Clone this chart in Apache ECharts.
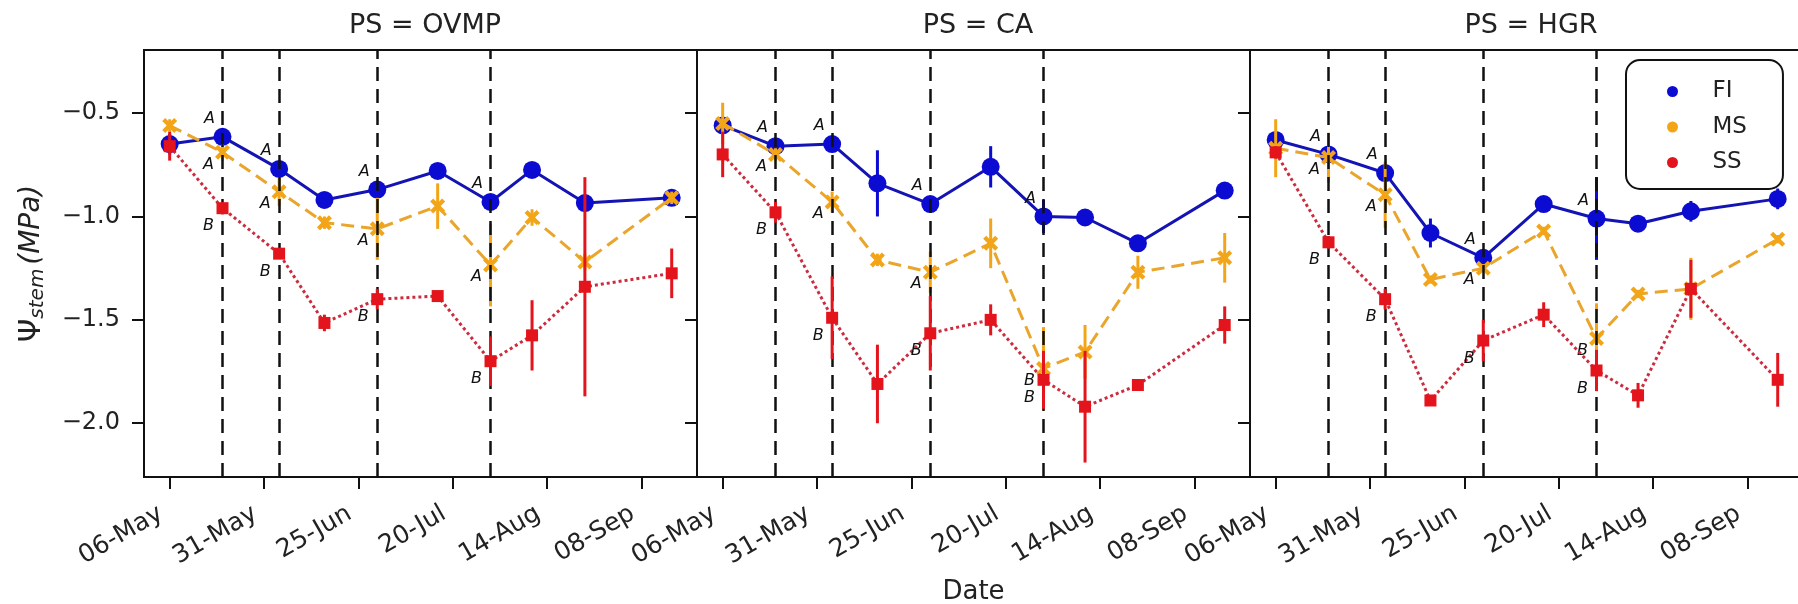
<!DOCTYPE html>
<html>
<head>
<meta charset="utf-8">
<title>Stem water potential</title>
<script src="https://cdn.jsdelivr.net/npm/echarts@6/dist/echarts.min.js"></script>
<style>
  html, body { margin: 0; padding: 0; background: #fff; }
  #main { width: 1798px; height: 604px; }
</style>
</head>
<body>
<div id="main"></div>
<script>
// days counted from 06-May
const days = [0, 14, 29, 41, 55, 71, 85, 96, 110, 133];
const tickDays = [0, 25, 50, 75, 100, 125];
const markDays = [14, 29, 55, 85];
const yTicks = [-2.0, -1.5, -1.0, -0.5];
const panelTitles = ['PS = OVMP', 'PS = CA', 'PS = HGR'];
const treatments = ['FI', 'MS', 'SS'];

// PS = OVMP
const ovmpFI = [-0.65, -0.615, -0.77, -0.92, -0.87, -0.78, -0.93, -0.775, -0.935, -0.91];
const ovmpFIErr = [0.05, 0.02, 0.03, 0.03, 0.02, 0.02, 0.02, 0.02, 0.02, 0.03];
const ovmpMS = [-0.56, -0.69, -0.88, -1.03, -1.06, -0.95, -1.235, -1.005, -1.22, -0.91];
const ovmpMSErr = [0.03, 0.04, 0.07, 0.03, 0.15, 0.11, 0.2, 0.04, 0.04, 0.03];
const ovmpSS = [-0.66, -0.96, -1.18, -1.515, -1.40, -1.385, -1.70, -1.575, -1.34, -1.275];
const ovmpSSErr = [0.07, 0.03, 0.02, 0.04, 0.05, 0.02, 0.12, 0.17, 0.53, 0.12];
const ovmpLetters = [['A', 'A', 'B'], ['A', 'A', 'B'], ['A', 'A', 'B'], ['A', 'A', 'B']];

// PS = CA
const caFI = [-0.56, -0.66, -0.65, -0.84, -0.94, -0.76, -1.0, -1.005, -1.13, -0.875];
const caFIErr = [0.02, 0.02, 0.03, 0.16, 0.02, 0.1, 0.08, 0.02, 0.02, 0.02];
const caMS = [-0.55, -0.70, -0.93, -1.21, -1.27, -1.13, -1.735, -1.655, -1.27, -1.20];
const caMSErr = [0.1, 0.03, 0.05, 0.03, 0.1, 0.12, 0.2, 0.13, 0.08, 0.12];
const caSS = [-0.70, -0.98, -1.49, -1.81, -1.565, -1.50, -1.79, -1.92, -1.815, -1.525];
const caSSErr = [0.11, 0.05, 0.2, 0.19, 0.18, 0.075, 0.14, 0.27, 0.02, 0.09];
const caLetters = [['A', 'A', 'B'], ['A', 'A', 'B'], ['A', 'A', 'B'], ['A', 'B', 'B']];

// PS = HGR
const hgrFI = [-0.63, -0.70, -0.79, -1.08, -1.20, -0.94, -1.01, -1.035, -0.975, -0.915];
const hgrFIErr = [0.02, 0.02, 0.03, 0.07, 0.02, 0.02, 0.2, 0.02, 0.05, 0.05];
const hgrMS = [-0.67, -0.715, -0.895, -1.305, -1.25, -1.07, -1.59, -1.375, -1.35, -1.11];
const hgrMSErr = [0.14, 0.12, 0.16, 0.02, 0.02, 0.02, 0.17, 0.02, 0.15, 0.02];
const hgrSS = [-0.69, -1.125, -1.40, -1.89, -1.60, -1.475, -1.745, -1.865, -1.35, -1.79];
const hgrSSErr = [0.03, 0.03, 0.05, 0.02, 0.1, 0.06, 0.1, 0.06, 0.14, 0.13];
const hgrLetters = [['A', 'A', 'B'], ['A', 'A', 'B'], ['A', 'A', 'B'], ['A', 'B', 'B']];

const panels = [
  { values: [ovmpFI, ovmpMS, ovmpSS], errs: [ovmpFIErr, ovmpMSErr, ovmpSSErr], letters: ovmpLetters },
  { values: [caFI, caMS, caSS], errs: [caFIErr, caMSErr, caSSErr], letters: caLetters },
  { values: [hgrFI, hgrMS, hgrSS], errs: [hgrFIErr, hgrMSErr, hgrSSErr], letters: hgrLetters }
];

const FONT = 'DejaVu Sans';
const MONTHS = ['Jan', 'Feb', 'Mar', 'Apr', 'May', 'Jun', 'Jul', 'Aug', 'Sep', 'Oct', 'Nov', 'Dec'];
function dayLabel(d) {
  const dt = new Date(Date.UTC(2021, 4, 6 + Math.round(d)));
  return String(dt.getUTCDate()).padStart(2, '0') + '-' + MONTHS[dt.getUTCMonth()];
}

// look of each treatment
const styles = [
  { color: '#0b0bd2', lineColor: '#1414b4', symbol: 'circle', size: 18, type: 'solid', z: 3, letterOffset: [-13, -18] },
  { color: '#f3a518', lineColor: '#e9a52c', symbol: 'path://M2,0 L5,3 L8,0 L10,2 L7,5 L10,8 L8,10 L5,7 L2,10 L0,8 L3,5 L0,2 Z', size: 15, type: [13, 7], z: 4, letterOffset: [-14, 12] },
  { color: '#e4141c', lineColor: '#cc2c3e', symbol: 'rect', size: 12, type: [3, 3], z: 5, letterOffset: [-14, 18] }
];

const gridLefts = [144, 697, 1250];
const grids = [], xAxes = [], yAxes = [], titles = [], series = [];

panels.forEach(function (p, i) {
  grids.push({
    left: gridLefts[i], top: 50, width: 553, height: 427, outerBoundsMode: 'none', containLabel: false,
    show: true, borderColor: '#111', borderWidth: 2
  });
  titles.push({
    text: panelTitles[i], left: gridLefts[i] + 276, top: 7, textAlign: 'center',
    textStyle: { fontFamily: FONT, fontSize: 27, fontWeight: 'normal', color: '#222' }
  });
  xAxes.push({
    type: 'value', gridIndex: i, min: -6.8, max: 139.7,
    name: i === 1 ? 'Date' : '', nameLocation: 'middle', nameGap: 102,
    nameTextStyle: { fontFamily: FONT, fontSize: 26, color: '#222' },
    axisLine: { show: true, onZero: false, lineStyle: { color: '#111', width: 2 } },
    axisTick: { show: true, length: 12, customValues: tickDays, lineStyle: { color: '#111', width: 2 } },
    axisLabel: {
      customValues: tickDays, rotate: 30, margin: 30, padding: [0, 10, 0, 0], formatter: dayLabel,
      fontFamily: FONT, fontSize: 25, color: '#222'
    },
    splitLine: { show: false }
  });
  yAxes.push({
    type: 'value', gridIndex: i, min: -2.26, max: -0.195,
    name: i === 0 ? '{psi|Ψ}{sub|stem} {it|(MPa)}' : '',
    nameLocation: 'middle', nameGap: 96, nameRotate: 90,
    nameTextStyle: {
      fontFamily: FONT, color: '#222',
      rich: {
        psi: { fontFamily: FONT, fontSize: 30, color: '#222' },
        sub: { fontFamily: FONT, fontSize: 20, fontStyle: 'italic', color: '#222', verticalAlign: 'bottom', padding: [12, 0, 0, 0] },
        it: { fontFamily: FONT, fontSize: 28, fontStyle: 'italic', color: '#222' }
      }
    },
    axisLine: { show: true, onZero: false, lineStyle: { color: '#111', width: 2 } },
    axisTick: { show: true, length: 12, customValues: yTicks, lineStyle: { color: '#111', width: 2 } },
    axisLabel: {
      show: i === 0, customValues: yTicks, margin: 24,
      formatter: function (v) { return v.toFixed(1).replace('-', '\u2212'); },
      fontFamily: FONT, fontSize: 24, color: '#222'
    },
    splitLine: { show: false }
  });

  // vertical dashed reference lines
  series.push({
    type: 'line', xAxisIndex: i, yAxisIndex: i, data: [], z: 1, silent: true,
    markLine: {
      silent: true, symbol: ['none', 'none'], label: { show: false },
      lineStyle: { color: '#111', type: [14, 8], width: 2.5 },
      data: markDays.map(function (d) { return { xAxis: d }; })
    }
  });

  treatments.forEach(function (name, k) {
    const st = styles[k];
    const vals = p.values[k];
    const errs = p.errs[k];
    series.push({
      name: name + ' err', type: 'custom', xAxisIndex: i, yAxisIndex: i, z: st.z, silent: true,
      data: days.map(function (d, j) { return [d, vals[j] - errs[j], vals[j] + errs[j]]; }),
      encode: { x: 0, y: [1, 2] },
      renderItem: function (params, api) {
        const a = api.coord([api.value(0), api.value(1)]);
        const b = api.coord([api.value(0), api.value(2)]);
        return { type: 'line', shape: { x1: a[0], y1: a[1], x2: b[0], y2: b[1] }, style: { stroke: st.color, lineWidth: 3 } };
      }
    });
    series.push({
      name: name, type: 'line', xAxisIndex: i, yAxisIndex: i, z: st.z,
      symbol: st.symbol, symbolSize: st.size, showAllSymbol: true,
      itemStyle: { color: st.color },
      lineStyle: { color: st.lineColor, width: 3, type: st.type },
      data: days.map(function (d, j) {
        const m = markDays.indexOf(d);
        const item = { value: [d, vals[j]] };
        if (m >= 0) {
          item.label = {
            show: true, formatter: p.letters[m][k], position: 'inside', offset: st.letterOffset,
            fontFamily: FONT, fontSize: 16, fontStyle: 'italic', color: '#111'
          };
        }
        return item;
      })
    });
  });
});

const chart = echarts.init(document.getElementById('main'));
chart.setOption({
  animation: false,
  backgroundColor: '#fff',
  title: titles,
  grid: grids,
  xAxis: xAxes,
  yAxis: yAxes,
  legend: {
    data: treatments.map(function (t, k) { return { name: t, itemStyle: { color: styles[k].color } }; }),
    icon: 'circle', orient: 'vertical', left: 1626, top: 60,
    itemWidth: 70, itemHeight: 11, itemGap: 12.5,
    padding: [20, 36, 15, 41],
    borderColor: '#111', borderWidth: 2, borderRadius: 14, backgroundColor: '#fff',
    textStyle: { fontFamily: FONT, fontSize: 23, color: '#222' }
  },
  series: series
});
</script>
</body>
</html>
